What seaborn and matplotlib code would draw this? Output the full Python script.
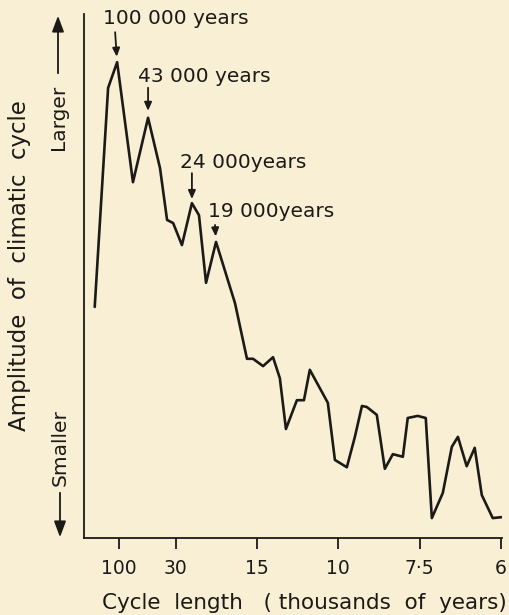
import numpy as np
import pandas as pd
import matplotlib
matplotlib.use("Agg")
import matplotlib.pyplot as plt
import seaborn as sns

# frequency (cycles per thousand years) and relative amplitude
freq = [0.0000, 0.0055, 0.0092, 0.0157, 0.0219, 0.0268, 0.0297, 0.0322, 0.0358,
        0.0399, 0.0428, 0.0457, 0.0498, 0.0576, 0.0625, 0.0650, 0.0691, 0.0732,
        0.0760, 0.0785, 0.0830, 0.0859, 0.0883, 0.0957, 0.0986, 0.1035, 0.1068,
        0.1097, 0.1117, 0.1158, 0.1191, 0.1224, 0.1265, 0.1285, 0.1326, 0.1359,
        0.1384, 0.1429, 0.1466, 0.1491, 0.1527, 0.1560, 0.1589, 0.1634, 0.1675]
amplitude = [44.1, 85.9, 90.8, 67.9, 80.2, 70.6, 60.7, 60.1, 55.9,
             63.9, 61.6, 48.7, 56.5, 44.8, 34.2, 34.2, 32.8, 34.5,
             30.5, 20.8, 26.3, 26.3, 32.1, 25.8, 14.9, 13.5, 19.3,
             25.2, 25.0, 23.5, 13.2, 16.0, 15.5, 22.9, 23.3, 22.9,
             3.8, 8.6, 17.4, 19.3, 13.7, 17.2, 8.2, 3.8, 4.0]

# x ticks: cycle length in thousands of years
tick_periods = [100, 30, 15, 10, 7.5, 6]
tick_labels = ["100", "30", "15", "10", "7·5", "6"]

# labelled peaks
peak_idx = [2, 4, 9, 12]
peak_labels = ["100 000 years", "43 000 years", "24 000years", "19 000years"]

df = pd.DataFrame({"freq": freq, "amplitude": amplitude})

sns.set_style("ticks")
plt.rcParams["font.family"] = ["DejaVu Sans"]
bg = "#f8efd5"
ink = "#1c1a17"

fig = plt.figure(figsize=(5.1, 6.15), dpi=100, facecolor=bg)
ax = fig.add_axes([84 / 510, 1 - 538 / 615, (502 - 84) / 510, (538 - 14) / 615])
ax.set_facecolor(bg)

sns.lineplot(data=df, x="freq", y="amplitude", color=ink, linewidth=1.9, ax=ax)

ax.set_xlim(-0.0044, 0.1672)
ax.set_ylim(0, 100)
sns.despine(ax=ax)
for s in ["left", "bottom"]:
    ax.spines[s].set_color(ink)
    ax.spines[s].set_linewidth(1.3)

ax.set_xticks([1 / p for p in tick_periods])
ax.set_xticklabels(tick_labels, fontsize=13.5, color=ink)
ax.tick_params(axis="x", direction="out", length=8, width=1.3, color=ink, pad=7)
ax.set_yticks([])
ax.set_xlabel("")
ax.set_ylabel("")

# peak annotations: text + down arrow (offsets in pixels)
text_off = [(-14, 44), (-10, 41), (-12, 41), (-8, 30)]
arrow_off = [(-2, 30, 4), (0, 30, 5), (0, 30, 3), (-1, 17, 4)]
for i, lab, (tx, ty), (ax_, t0, t1) in zip(peak_idx, peak_labels, text_off, arrow_off):
    px, py = freq[i], amplitude[i]
    ax.annotate(lab, xy=(px, py), xytext=(tx, ty), textcoords="offset pixels",
                ha="left", va="center", fontsize=14.5, color=ink)
    ax.annotate("", xy=(px, py), xytext=(ax_, t0), textcoords="offset pixels",
                arrowprops=dict(arrowstyle="-|>,head_length=0.5,head_width=0.22",
                                color=ink, lw=1.3, shrinkA=0, shrinkB=t1))

# axis labels
fig.text(304 / 510, 1 - 603 / 615, "Cycle  length   ( thousands  of  years)",
         ha="center", va="center", fontsize=15.5, color=ink)
fig.text(20 / 510, 1 - 266 / 615, "Amplitude  of  climatic  cycle", rotation=90,
         ha="center", va="center", fontsize=16.5, color=ink)
fig.text(58 / 510, 1 - 117 / 615, "Larger", rotation=90,
         ha="center", va="center", fontsize=14.5, color=ink)
fig.text(60 / 510, 1 - 448 / 615, "Smaller", rotation=90,
         ha="center", va="center", fontsize=14.5, color=ink)
fig.patches.append(matplotlib.patches.FancyArrowPatch(
    (58 / 510, 1 - 76 / 615), (58 / 510, 1 - 13 / 615), transform=fig.transFigure,
    arrowstyle="-|>,head_length=0.8,head_width=0.3", color=ink, lw=1.3, mutation_scale=12))
fig.patches.append(matplotlib.patches.FancyArrowPatch(
    (60 / 510, 1 - 490 / 615), (60 / 510, 1 - 540 / 615), transform=fig.transFigure,
    arrowstyle="-|>,head_length=0.8,head_width=0.3", color=ink, lw=1.3, mutation_scale=12))

fig.savefig("out.png", dpi=100, facecolor=bg)
